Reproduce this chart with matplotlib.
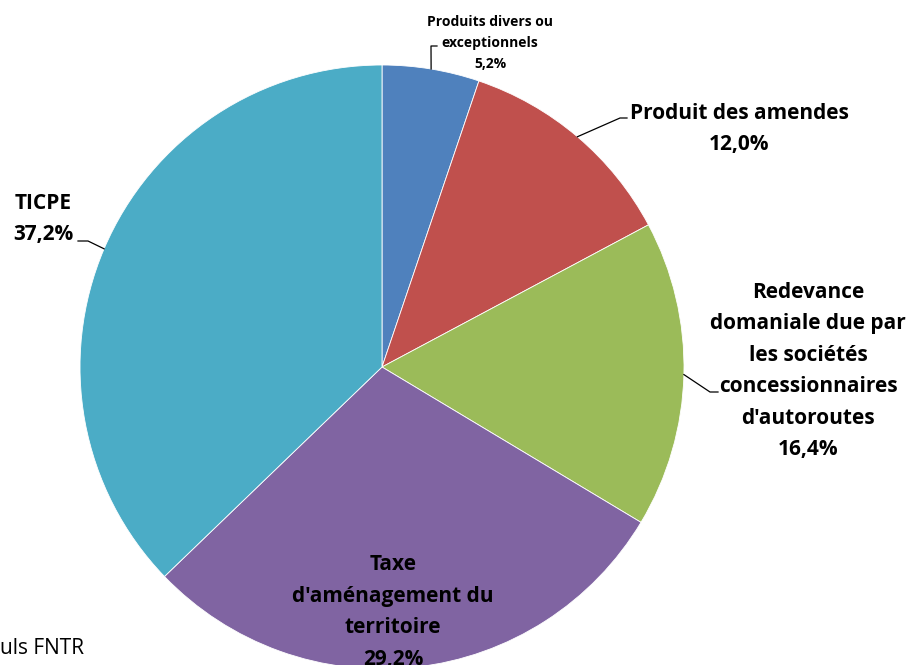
import matplotlib
matplotlib.use("Agg")
import matplotlib.pyplot as plt
import numpy as np

plt.rcParams['font.family'] = ['Open Sans', 'DejaVu Sans']

labels = ["Produits divers ou\nexceptionnels", "Produit des amendes",
          "Redevance\ndomaniale due par\nles sociétés\nconcessionnaires\nd'autoroutes",
          "Taxe\nd'aménagement du\nterritoire", "TICPE"]
shares = [5.2, 12.0, 16.4, 29.2, 37.2]
colors = ["#4F81BD", "#C0504D", "#9BBB59", "#8064A2", "#4BACC6"]

W, H = 918, 665
CX, CY, R = 382, 367, 302

# label text centre (pixels, top-left origin), font size, leader-line elbow
label_pos = [(490, 43, 10), (739, 129, 15), (808, 371, 15), (393, 612, 15), (43.5, 219, 15)]
elbows = [(431, 46, 437), (620, 118, 627), (710, 392, 718), None, (88, 241, 78)]

fig = plt.figure(figsize=(W / 100, H / 100), dpi=100)
ax = fig.add_axes([0, 0, 1, 1])

wedges, _ = ax.pie(shares, colors=colors, startangle=90, counterclock=False,
                   center=(CX, H - CY), radius=R,
                   wedgeprops=dict(edgecolor='white', linewidth=0.6))
ax.set_xlim(0, W)
ax.set_ylim(0, H)
ax.set_aspect('equal')
ax.axis('off')

for w, lab, share, (lx, ly, fs), el in zip(wedges, labels, shares, label_pos, elbows):
    txt = lab + "\n" + f"{share:.1f}%".replace('.', ',')
    ax.text(lx, H - ly, txt, ha='center', va='center', fontsize=fs,
            fontweight='bold', color='black', linespacing=1.65)
    if el is not None:
        ang = np.deg2rad((w.theta1 + w.theta2) / 2)
        x0 = CX + R * np.cos(ang)
        y0 = CY - R * np.sin(ang)
        ex, ey, hx = el
        ax.plot([x0, ex, hx], [H - y0, H - ey, H - ey], color='black', lw=0.9)

ax.text(0, H - 648, "uls FNTR", ha='left', va='center', fontsize=15)

fig.savefig("out.png", dpi=100)
